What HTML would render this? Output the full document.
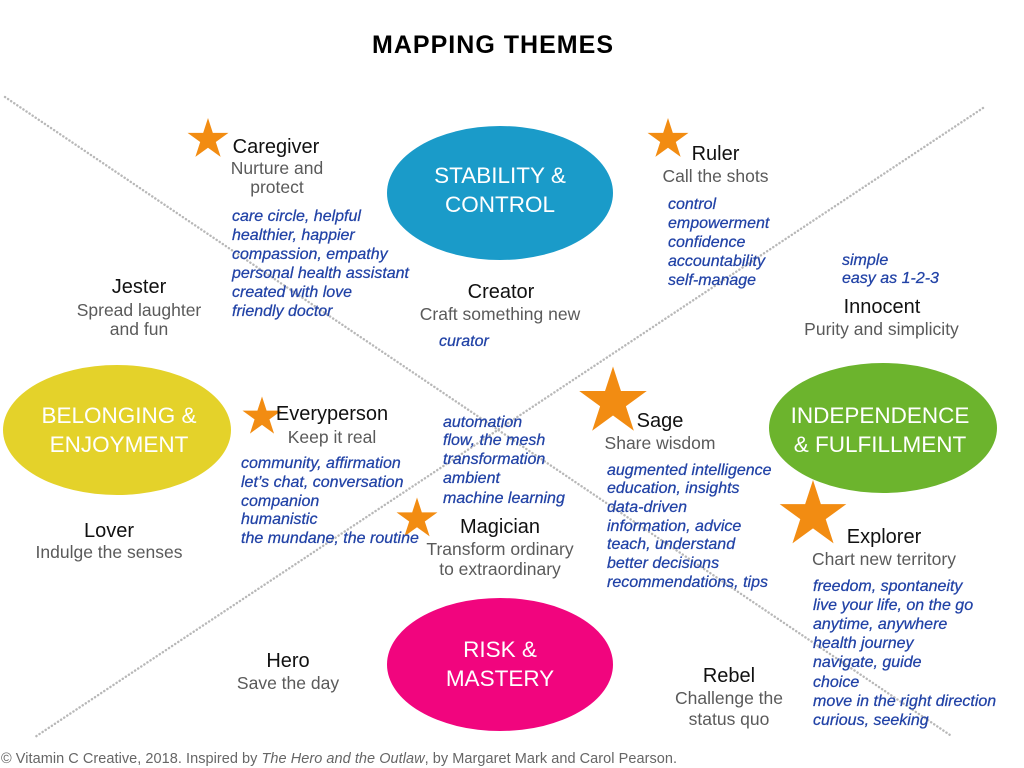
<!DOCTYPE html>
<html>
<head>
<meta charset="utf-8">
<style>
  html,body{margin:0;padding:0;background:#fff;}
  svg{display:block;}
  .t{font-family:"Liberation Sans",Arial,sans-serif;}
  .nm{font-size:20px;fill:#111;text-anchor:middle;}
  .ds{font-size:17.5px;fill:#5a5a5a;text-anchor:middle;}
  .bl{font-size:16px;fill:#2142a6;font-style:italic;stroke:#2142a6;stroke-width:0.25px;}
  .el{font-size:22.5px;fill:#fff;text-anchor:middle;}
</style>
</head>
<body>
<svg width="1024" height="768" viewBox="0 0 1024 768" xmlns="http://www.w3.org/2000/svg">
  <rect width="1024" height="768" fill="#fff"/>
  <!-- dotted diagonals -->
  <line x1="5" y1="97" x2="950" y2="735" stroke="#b8b8b8" stroke-width="2.4" stroke-dasharray="0.1 3.6" stroke-linecap="round"/>
  <line x1="983" y1="108" x2="35" y2="737" stroke="#b8b8b8" stroke-width="2.4" stroke-dasharray="0.1 3.6" stroke-linecap="round"/>

  <!-- ellipses -->
  <ellipse cx="500" cy="193" rx="113" ry="67" fill="#1a9bc9"/>
  <ellipse cx="117" cy="430" rx="114" ry="65" fill="#e4d22a"/>
  <ellipse cx="883" cy="428" rx="114" ry="65" fill="#6cb42d"/>
  <ellipse cx="500" cy="664.5" rx="113" ry="66.5" fill="#f1057e"/>

  <!-- stars -->
  <g fill="#f28c12">
    <polygon points="0,-1 0.2245,-0.309 0.9511,-0.309 0.3633,0.118 0.5878,0.809 0,0.382 -0.5878,0.809 -0.3633,0.118 -0.9511,-0.309 -0.2245,-0.309" transform="translate(208,139.5) scale(21.5)"/>
    <polygon points="0,-1 0.2245,-0.309 0.9511,-0.309 0.3633,0.118 0.5878,0.809 0,0.382 -0.5878,0.809 -0.3633,0.118 -0.9511,-0.309 -0.2245,-0.309" transform="translate(668,139.5) scale(21.5)"/>
    <polygon points="0,-1 0.2245,-0.309 0.9511,-0.309 0.3633,0.118 0.5878,0.809 0,0.382 -0.5878,0.809 -0.3633,0.118 -0.9511,-0.309 -0.2245,-0.309" transform="translate(262,417) scale(20.5)"/>
    <polygon points="0,-1 0.2245,-0.309 0.9511,-0.309 0.3633,0.118 0.5878,0.809 0,0.382 -0.5878,0.809 -0.3633,0.118 -0.9511,-0.309 -0.2245,-0.309" transform="translate(417,519) scale(21.5)"/>
    <polygon points="0,-1 0.2245,-0.309 0.9511,-0.309 0.3633,0.118 0.5878,0.809 0,0.382 -0.5878,0.809 -0.3633,0.118 -0.9511,-0.309 -0.2245,-0.309" transform="translate(613,402) scale(35.5)"/>
    <polygon points="0,-1 0.2245,-0.309 0.9511,-0.309 0.3633,0.118 0.5878,0.809 0,0.382 -0.5878,0.809 -0.3633,0.118 -0.9511,-0.309 -0.2245,-0.309" transform="translate(813,515) scale(35)"/>
  </g>

  <!-- title -->
  <text class="t" x="372" y="53" font-size="25" font-weight="bold" fill="#000" textLength="241" lengthAdjust="spacing">MAPPING THEMES</text>

  <!-- ellipse labels -->
  <g class="t">
    <text class="el" x="500" y="183">STABILITY &amp;</text>
    <text class="el" x="500" y="212">CONTROL</text>
    <text class="el" x="119" y="423">BELONGING &amp;</text>
    <text class="el" x="119" y="452">ENJOYMENT</text>
    <text class="el" x="880" y="423">INDEPENDENCE</text>
    <text class="el" x="880" y="452">&amp; FULFILLMENT</text>
    <text class="el" x="500" y="657">RISK &amp;</text>
    <text class="el" x="500" y="686">MASTERY</text>
  </g>

  <!-- names & descriptions -->
  <g class="t">
    <text class="nm" x="276" y="153">Caregiver</text>
    <text class="ds" x="277" y="174">Nurture and</text>
    <text class="ds" x="277" y="193">protect</text>

    <text class="nm" x="715.5" y="160">Ruler</text>
    <text class="ds" x="715.5" y="182">Call the shots</text>

    <text class="nm" x="139" y="293">Jester</text>
    <text class="ds" x="139" y="316">Spread laughter</text>
    <text class="ds" x="139" y="335">and fun</text>

    <text class="nm" x="501" y="298">Creator</text>
    <text class="ds" x="500" y="320">Craft something new</text>

    <text class="nm" x="882" y="313">Innocent</text>
    <text class="ds" x="881.5" y="335">Purity and simplicity</text>

    <text class="nm" x="332" y="420">Everyperson</text>
    <text class="ds" x="332" y="443">Keep it real</text>

    <text class="nm" x="109" y="537">Lover</text>
    <text class="ds" x="109" y="558">Indulge the senses</text>

    <text class="nm" x="500" y="533">Magician</text>
    <text class="ds" x="500" y="555">Transform ordinary</text>
    <text class="ds" x="500" y="575">to extraordinary</text>

    <text class="nm" x="660" y="427">Sage</text>
    <text class="ds" x="660" y="449">Share wisdom</text>

    <text class="nm" x="884" y="543">Explorer</text>
    <text class="ds" x="884" y="565">Chart new territory</text>

    <text class="nm" x="288" y="667">Hero</text>
    <text class="ds" x="288" y="689">Save the day</text>

    <text class="nm" x="729" y="682">Rebel</text>
    <text class="ds" x="729" y="704">Challenge the</text>
    <text class="ds" x="729" y="725">status quo</text>
  </g>

  <!-- blue keyword lists -->
  <g class="t bl">
    <text x="232" y="221">care circle, helpful</text>
    <text x="232" y="240">healthier, happier</text>
    <text x="232" y="259">compassion, empathy</text>
    <text x="232" y="278">personal health assistant</text>
    <text x="232" y="297">created with love</text>
    <text x="232" y="316">friendly doctor</text>

    <text x="668" y="209">control</text>
    <text x="668" y="228">empowerment</text>
    <text x="668" y="247">confidence</text>
    <text x="668" y="266">accountability</text>
    <text x="668" y="285">self-manage</text>

    <text x="842" y="265">simple</text>
    <text x="842" y="283">easy as 1-2-3</text>

    <text x="439" y="346">curator</text>

    <text x="241" y="468">community, affirmation</text>
    <text x="241" y="487">let’s chat, conversation</text>
    <text x="241" y="506">companion</text>
    <text x="241" y="524">humanistic</text>
    <text x="241" y="543">the mundane, the routine</text>

    <text x="443" y="427">automation</text>
    <text x="443" y="445">flow, the mesh</text>
    <text x="443" y="464">transformation</text>
    <text x="443" y="483">ambient</text>
    <text x="443" y="503">machine learning</text>

    <text x="607" y="475">augmented intelligence</text>
    <text x="607" y="493">education, insights</text>
    <text x="607" y="512">data-driven</text>
    <text x="607" y="531">information, advice</text>
    <text x="607" y="549">teach, understand</text>
    <text x="607" y="568">better decisions</text>
    <text x="607" y="587">recommendations, tips</text>

    <text x="813" y="591">freedom, spontaneity</text>
    <text x="813" y="610">live your life, on the go</text>
    <text x="813" y="629">anytime, anywhere</text>
    <text x="813" y="648">health journey</text>
    <text x="813" y="667">navigate, guide</text>
    <text x="813" y="687">choice</text>
    <text x="813" y="706">move in the right direction</text>
    <text x="813" y="725">curious, seeking</text>
  </g>

  <!-- footer -->
  <text class="t" x="1" y="763" font-size="14.5" fill="#666" textLength="676" lengthAdjust="spacing">© Vitamin C Creative, 2018. Inspired by <tspan font-style="italic">The Hero and the Outlaw</tspan>, by Margaret Mark and Carol Pearson.</text>
</svg>
</body>
</html>
